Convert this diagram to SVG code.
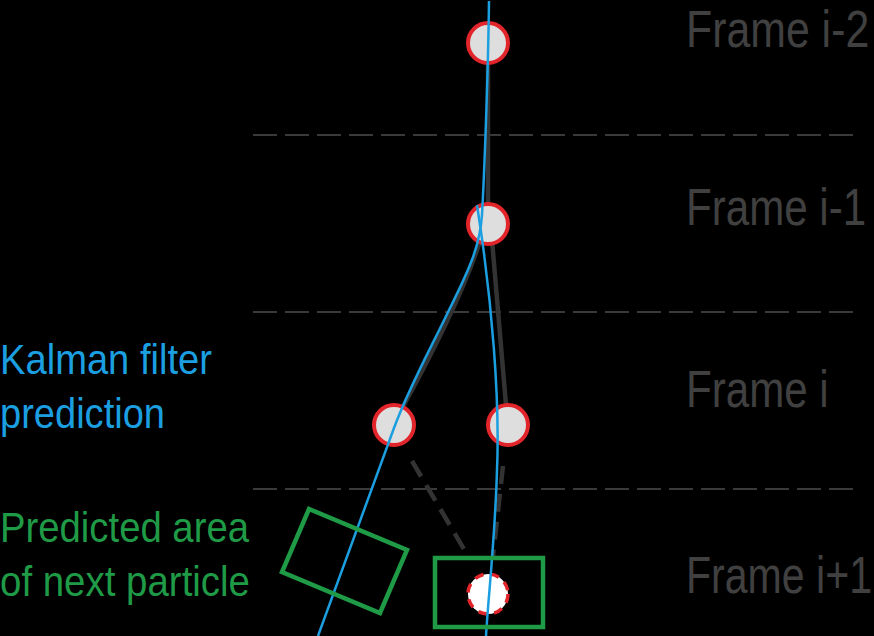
<svg xmlns="http://www.w3.org/2000/svg" width="874" height="636" viewBox="0 0 874 636">
<style>
.bg{fill:#000}
.sep{stroke:#3a3a3a;stroke-width:2;stroke-dasharray:24 8;fill:none}
.trk{stroke:#333;stroke-width:4.5;fill:none;stroke-linecap:round}
.trkd{stroke:#333;stroke-width:4.5;fill:none;stroke-dasharray:18 10}
.pt{fill:#dedede;stroke:#e1252b;stroke-width:4}
.kal{stroke:#1b9fe0;stroke-width:2.5;fill:none}
.area{stroke:#1f9a46;stroke-width:4.5;fill:none}
.frame{font-family:"Liberation Sans",Arial,sans-serif;font-size:52px;fill:#404040}
.lbl{font-family:"Liberation Sans",Arial,sans-serif;font-size:43px}
</style>
<rect class="bg" x="0" y="0" width="874" height="636"/>
<g id="separators">
<line class="sep" x1="253" y1="135" x2="856" y2="135"/>
<line class="sep" x1="253" y1="312" x2="856" y2="312"/>
<line class="sep" x1="253" y1="489" x2="856" y2="489"/>
</g>
<g id="connectors">
<line class="trk" x1="488" y1="45" x2="488" y2="220"/>
<path class="trk" d="M482,235 Q462,300 400,412"/>
<line class="trk" x1="492" y1="240" x2="506" y2="405"/>
<line class="trkd" x1="412" y1="461" x2="468" y2="556"/>
<line class="trkd" x1="503" y1="466" x2="493" y2="556"/>
</g>
<g id="p1"><circle class="pt" cx="488" cy="43" r="20"/></g>
<g id="p2"><circle class="pt" cx="488" cy="224" r="20"/></g>
<g id="p3"><circle class="pt" cx="394" cy="425" r="20"/></g>
<g id="p4"><circle class="pt" cx="508" cy="425" r="20"/></g>
<g id="p5"><circle cx="488" cy="594" r="20" fill="#fff" stroke="#e1252b" stroke-width="3.5" stroke-dasharray="9 7"/></g>
<g id="kalman">
<path class="kal" d="M489,1 C488,80 484,180 482,215 C480,245 470,268 450,308 C430,350 410,385 394,428 L318,636"/>
<path class="kal" d="M477,205 C492,300 500,400 497,470 C495,540 488,600 486,636"/>
</g>
<g id="areas">
<polygon class="area" points="309,509 407,550 380,613 282,572"/>
<rect class="area" x="435" y="558" width="108" height="69"/>
</g>
<g id="frames">
<text class="frame" style="font-size:51px" transform="translate(686,46.5) scale(0.84,1)">Frame i-2</text>
<text class="frame" transform="translate(686,225) scale(0.81,1)">Frame i-1</text>
<text class="frame" transform="translate(686,407) scale(0.81,1)">Frame i</text>
<text class="frame" transform="translate(686,593) scale(0.79,1)">Frame i+1</text>
</g>
<g id="labels">
<text class="lbl" fill="#1b9fe0" x="0" y="374" textLength="212" lengthAdjust="spacingAndGlyphs">Kalman filter</text>
<text class="lbl" fill="#1b9fe0" x="0" y="428" textLength="165" lengthAdjust="spacingAndGlyphs">prediction</text>
<text class="lbl" fill="#1f9a46" x="0" y="542" textLength="249" lengthAdjust="spacingAndGlyphs">Predicted area</text>
<text class="lbl" fill="#1f9a46" x="0" y="596" textLength="250" lengthAdjust="spacingAndGlyphs">of next particle</text>
</g>
</svg>
